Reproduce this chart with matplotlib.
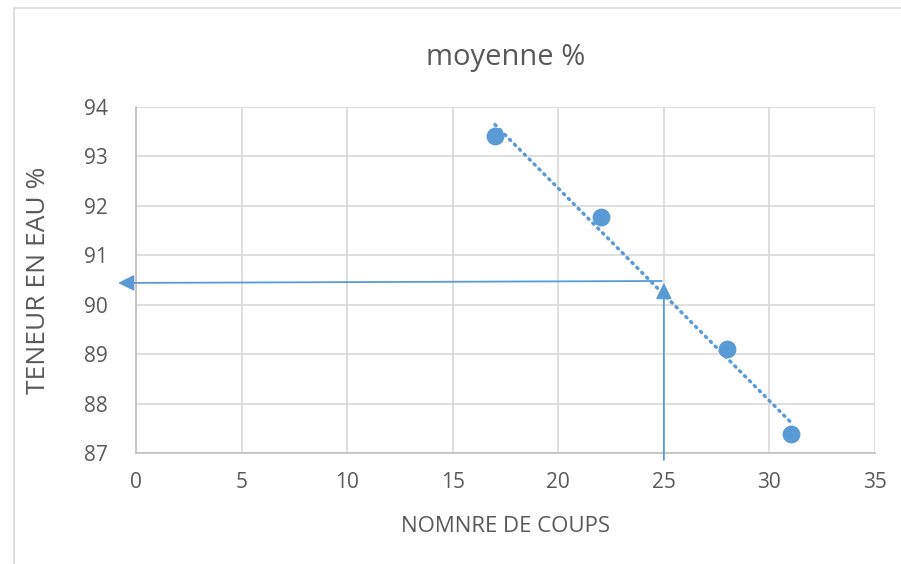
import numpy as np
import matplotlib.pyplot as plt
from matplotlib.patches import Rectangle

# data
coups = [17, 22, 28, 31]
teneur = [93.42, 91.78, 89.1, 87.38]
x_ticks = [0, 5, 10, 15, 20, 25, 30, 35]
y_ticks = [87, 88, 89, 90, 91, 92, 93, 94]
# reading lines (arrow start -> arrow tip)
vert_arrow = [(25, 86.86), (25, 90.44)]
horiz_arrow = [(24.9, 90.48), (-0.85, 90.44)]

blue = "#5B9BD5"
grey_txt = "#595959"
plt.rcParams['font.family'] = ['Open Sans', 'DejaVu Sans']

fig = plt.figure(figsize=(9.01, 5.64), dpi=100)
fig.patches.append(Rectangle((14/901, -0.1), 1.2, (564-8)/564 + 0.1, transform=fig.transFigure,
                             fill=False, edgecolor="#D9D9D9", lw=1.2))
ax = fig.add_axes([136/901, 1-453/564, (875-136)/901, (453-107)/564])

ax.set_xlim(0, 35)
ax.set_ylim(87, 94)
ax.set_xticks(x_ticks)
ax.set_yticks(y_ticks)
ax.grid(True, color="#D9D9D9", lw=1.2)
ax.set_axisbelow(True)
for s in ['top', 'right']:
    ax.spines[s].set_visible(False)
for s in ['left', 'bottom']:
    ax.spines[s].set_color("#BFBFBF")
    ax.spines[s].set_linewidth(1.2)
ax.tick_params(axis='y', length=0, labelsize=15, colors=grey_txt, pad=20)
ax.tick_params(axis='x', length=0, labelsize=15, colors=grey_txt, pad=14)

# points
ax.scatter(coups, teneur, s=140, color=blue, zorder=3, clip_on=False)

# linear trend line
a, b = np.polyfit(coups, teneur, 1)
tx = np.array([min(coups), max(coups)])
ax.plot(tx, a*tx + b, color=blue, lw=2.5, linestyle=(0, (0.4, 1.6)),
        dash_capstyle='round', zorder=2)

# reading arrows
for (x0, y0), (x1, y1) in [vert_arrow, horiz_arrow]:
    ax.annotate("", xy=(x1, y1), xytext=(x0, y0),
                arrowprops=dict(arrowstyle='-|>', color=blue, lw=1.3,
                                mutation_scale=24, shrinkA=0, shrinkB=0),
                annotation_clip=False, zorder=4)

ax.set_title("moyenne %", fontsize=21, color=grey_txt, pad=30)
ax.set_xlabel("NOMNRE DE COUPS", fontsize=16, color=grey_txt, labelpad=16)
ax.set_ylabel("TENEUR EN EAU %", fontsize=19, color=grey_txt, labelpad=24)

plt.savefig("out.png", dpi=100)
